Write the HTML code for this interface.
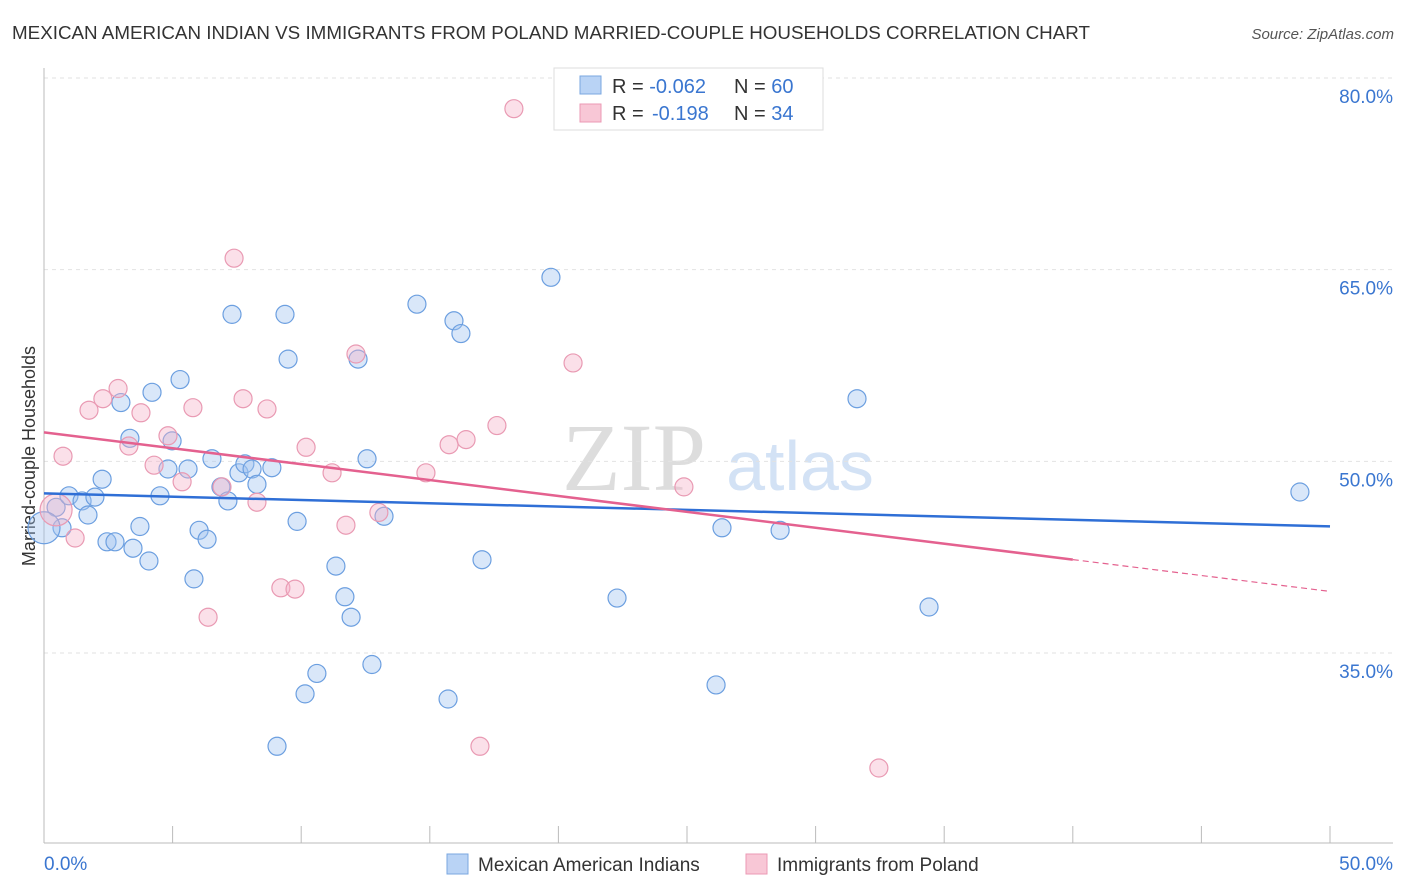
<!DOCTYPE html>
<html><head><meta charset="utf-8"><style>
body{margin:0;background:#fff;font-family:"Liberation Sans",sans-serif;}
#wrap{position:relative;width:1406px;height:892px;overflow:hidden;}
</style></head><body>
<div id="wrap">
<svg id="svg" width="1406" height="892">
<text x="12" y="39" font-size="18" fill="#333" textLength="1078" lengthAdjust="spacingAndGlyphs">MEXICAN AMERICAN INDIAN VS IMMIGRANTS FROM POLAND MARRIED-COUPLE HOUSEHOLDS CORRELATION CHART</text>
<text x="1394" y="39" font-size="15" fill="#555" font-style="italic" text-anchor="end">Source: ZipAtlas.com</text>
<text x="634" y="490" font-size="96" fill="#ddd" font-family="Liberation Serif,serif" text-anchor="middle">ZIP</text>
<text x="800" y="490" font-size="70" fill="#d3e2f5" text-anchor="middle">atlas</text>
<text transform="translate(35,456) rotate(-90)" font-size="18" fill="#333" text-anchor="middle">Married-couple Households</text>
<g id="grid"></g><g id="marks"></g><g id="lines"></g>
<g>
<rect x="554" y="68" width="269" height="62" fill="#fff" stroke="#ddd"/>
<rect x="580" y="76" width="21" height="18" fill="#b9d3f5" stroke="#7aa7e0"/>
<rect x="580" y="104" width="21" height="18" fill="#f8c7d6" stroke="#eb9ab4"/>
<text x="612" y="93" font-size="20" fill="#333">R = <tspan fill="#3a76d0">-0.062</tspan><tspan x="734">N = </tspan><tspan fill="#3a76d0">60</tspan></text>
<text x="612" y="120" font-size="20" fill="#333">R = <tspan x="652" fill="#3a76d0">-0.198</tspan><tspan x="734">N = </tspan><tspan fill="#3a76d0">34</tspan></text>
</g>
<g>
<rect x="447" y="854" width="21" height="20" fill="#b9d3f5" stroke="#7aa7e0"/>
<text x="478" y="871" font-size="19" fill="#333">Mexican American Indians</text>
<rect x="746" y="854" width="21" height="20" fill="#f8c7d6" stroke="#eb9ab4"/>
<text x="777" y="871" font-size="19" fill="#333">Immigrants from Poland</text>
</g>
</svg>
</div>
<script>
const blueX=[0.47,0.70,0.97,1.48,1.98,1.71,2.26,2.45,2.76,2.99,3.34,3.46,3.73,4.08,4.20,4.51,4.82,4.98,5.29,5.60,5.83,6.03,6.34,6.53,6.88,7.15,7.31,7.58,7.81,8.09,8.28,8.86,9.06,9.37,9.49,9.84,10.15,10.61,11.35,11.70,11.94,12.21,12.56,12.75,13.22,14.50,15.71,15.94,16.21,17.03,19.71,22.28,26.13,26.36,28.62,31.61,34.41,48.83,0];
const blueY=[46.4,44.8,47.3,46.9,47.2,45.8,48.6,43.7,43.7,54.6,51.8,43.2,44.9,42.2,55.4,47.3,49.4,51.6,56.4,49.4,40.8,44.6,43.9,50.2,48.0,46.9,61.5,49.1,49.8,49.4,48.2,49.5,27.7,61.5,58.0,45.3,31.8,33.4,41.8,39.4,37.8,58.0,50.2,34.1,45.7,62.3,31.4,61.0,60.0,42.3,64.4,39.3,32.5,44.8,44.6,54.9,38.6,47.6,44.8];
const blueBig=[58];
const pinkX=[0.47,0.74,1.21,1.75,2.29,2.88,3.30,3.77,4.28,4.82,5.37,5.79,6.38,6.92,7.39,7.74,8.28,8.67,9.21,9.76,10.19,11.20,11.74,12.13,13.02,14.85,15.75,16.41,16.95,17.61,18.27,20.57,24.88,32.46];
const pinkY=[46.2,50.4,44.0,54.0,54.9,55.7,51.2,53.8,49.7,52.0,48.4,54.2,37.8,48.0,65.9,54.9,46.8,54.1,40.1,40.0,51.1,49.1,45.0,58.4,46.0,49.1,51.3,51.7,27.7,52.8,77.6,57.7,48.0,26.0];
const pinkBig=[0];
const blueTrend=[47.49,44.91];
const pinkTrend=[52.27,39.82];
const pinkSolidEnd=40;
const yTicks=[80,65,50,35];
const xTicks=[0,5,10,15,20,25,30,35,40,45,50];

const NS="http://www.w3.org/2000/svg";
const X0=44,X1=1330,Y0=78,Y1=653;
const sx=v=>X0+(v/50)*(X1-X0);
const sy=v=>Y0+(80-v)/45*(Y1-Y0);
function mk(tag,attrs,parent){const e=document.createElementNS(NS,tag);for(const k in attrs)e.setAttribute(k,attrs[k]);document.getElementById(parent).appendChild(e);return e;}
let e;
yTicks.forEach(t=>{
 e=mk('line',{x1:44,x2:1393,y1:sy(t),y2:sy(t),stroke:'#e2e2e2','stroke-dasharray':'4,4'},'grid');
 
 
 e=mk('text',{x:1393,y:sy(t)+25,'font-size':19,fill:'#3a76d0','text-anchor':'end'},'grid');e.textContent=t.toFixed(1)+'%';
 
 
});
e=mk('line',{x1:44,x2:44,y1:68,y2:843,stroke:'#bbb'},'grid');


e=mk('line',{x1:44,x2:1393,y1:843,y2:843,stroke:'#bbb'},'grid');


xTicks.forEach(t=>{
 e=mk('line',{x1:sx(t),x2:sx(t),y1:826,y2:843,stroke:'#bbb'},'grid');
 
 
});
e=mk('text',{x:44,y:870,'font-size':19,fill:'#3a76d0'},'grid');e.textContent=xTicks[0].toFixed(1)+'%';


e=mk('text',{x:1393,y:870,'font-size':19,fill:'#3a76d0','text-anchor':'end'},'grid');e.textContent=xTicks[xTicks.length-1].toFixed(1)+'%';


function pts(xs,ys,big,fill,stroke,name){
 xs.forEach((v,i)=>{
  e=mk('circle',{cx:sx(v),cy:sy(ys[i]),r:big.includes(i)?16:9,fill:fill,stroke:stroke,'stroke-width':1.2},'marks');
  
  
 });
}
pts(blueX,blueY,blueBig,'rgba(160,196,240,0.4)','#6c9fe0','point-mexican-american-indian');
pts(pinkX,pinkY,pinkBig,'rgba(245,178,200,0.4)','#e99ab3','point-immigrants-from-poland');
e=mk('line',{x1:sx(0),y1:sy(blueTrend[0]),x2:sx(50),y2:sy(blueTrend[1]),stroke:'#2f6fd6','stroke-width':2.5},'lines');


const pAt=v=>pinkTrend[0]+(pinkTrend[1]-pinkTrend[0])*v/50;
e=mk('line',{x1:sx(0),y1:sy(pinkTrend[0]),x2:sx(pinkSolidEnd),y2:sy(pAt(pinkSolidEnd)),stroke:'#e4618f','stroke-width':2.5},'lines');


e=mk('line',{x1:sx(pinkSolidEnd),y1:sy(pAt(pinkSolidEnd)),x2:sx(50),y2:sy(pinkTrend[1]),stroke:'#e4618f','stroke-width':1.2,'stroke-dasharray':'6,4'},'lines');


</script>
</body></html>
